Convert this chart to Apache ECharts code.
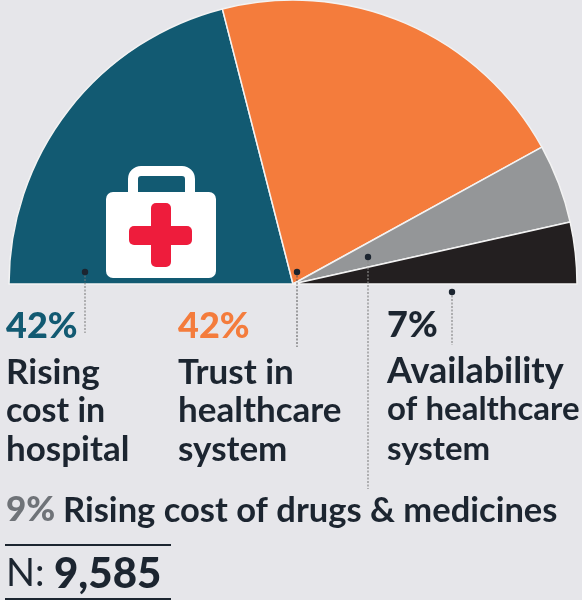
<!DOCTYPE html>
<html><head><meta charset="utf-8">
<style>html,body{margin:0;padding:0;background:#e6e6ea}#c{width:582px;height:600px}</style>
<script src="https://cdn.jsdelivr.net/npm/echarts@6/dist/echarts.min.js"></script>
</head><body><div id="c"></div>
<script>
const categories = ['Rising cost in hospital','Trust in healthcare system','Rising cost of drugs & medicines','Availability of healthcare system'];
const values = [42,42,9,7];
const colors = ['#125a72','#f47c3c','#949698','#231f20'];
const FF = 'Lato,"Open Sans",sans-serif';
const ink = '#1c2530';
function t(x,y,text,size,weight,fill){return {type:'text',z:20,style:{x,y,text,fontFamily:FF,fontSize:size,fontWeight:weight,fill,verticalAlign:'middle'}};}
function line(x1,y1,x2,y2,stroke,w,dash){return {type:'line',z:15,shape:{x1,y1,x2,y2},style:{stroke,lineWidth:w,lineDash:dash||null}};}
function dot(x,y){return {type:'circle',z:16,shape:{cx:x,cy:y,r:3.2},style:{fill:'#1c2530'}};}
const chart = echarts.init(document.getElementById('c'),null,{renderer:'canvas'});
chart.setOption({
  backgroundColor:'#e6e6ea',
  animation:false,
  series:[{type:'pie',center:[293,284],radius:[0,284],startAngle:180,endAngle:0,clockwise:true,
    label:{show:false},labelLine:{show:false},silent:true,
    itemStyle:{borderColor:'#f3f3f3',borderWidth:1.5},
    data:categories.map((name,i)=>({name,value:values[i],itemStyle:{color:colors[i]}}))}],
  graphic:[
    {type:'rect',z:10,shape:{x:133,y:171,width:57,height:36,r:[8,8,0,0]},style:{fill:'none',stroke:'#fff',lineWidth:10}},
    {type:'rect',z:11,shape:{x:106,y:192,width:110,height:86,r:7},style:{fill:'#fff'}},
    {type:'rect',z:12,shape:{x:151,y:203,width:20,height:64,r:5},style:{fill:'#ee1c3c'}},
    {type:'rect',z:12,shape:{x:129,y:226,width:63,height:19,r:5},style:{fill:'#ee1c3c'}},
    line(85,272,85,333,'#777',1,[2,1.5]), dot(85,272),
    line(297,272,297,347,'#555',1,[2,1.5]), dot(297,272),
    line(368,257,368,489,'#8a8a8a',1.2,[2,1.5]), dot(368,257),
    line(452,292,452,345,'#777',1,[2,1.5]), dot(452,292),
    t(6,326,'42%',36,900,colors[0]),
    t(178,326,'42%',36,900,colors[1]),
    t(387,325,'7%',36,900,ink),
    t(6,373,'Rising',35,700,ink),
    t(6,411,'cost in',34,700,ink),
    t(6,450,'hospital',35,700,ink),
    t(178,373,'Trust in',35,700,ink),
    t(178,411,'healthcare',35,700,ink),
    t(178,450,'system',35,700,ink),
    t(387,371,'Availability',36,700,ink),
    t(387,409,'of healthcare',33,700,ink),
    t(387,449,'system',33,700,ink),
    t(6,510,'9%',35,900,'#6f7378'),
    t(63,511,'Rising cost of drugs & medicines',34.5,700,ink),
    line(5,545,171,545,'#1c2530',2),
    t(6,574,'N:',38,400,ink),
    t(54,574,'9,585',42,900,ink),
    line(5,599,171,599,'#1c2530',2)
  ]
});
</script></body></html>
